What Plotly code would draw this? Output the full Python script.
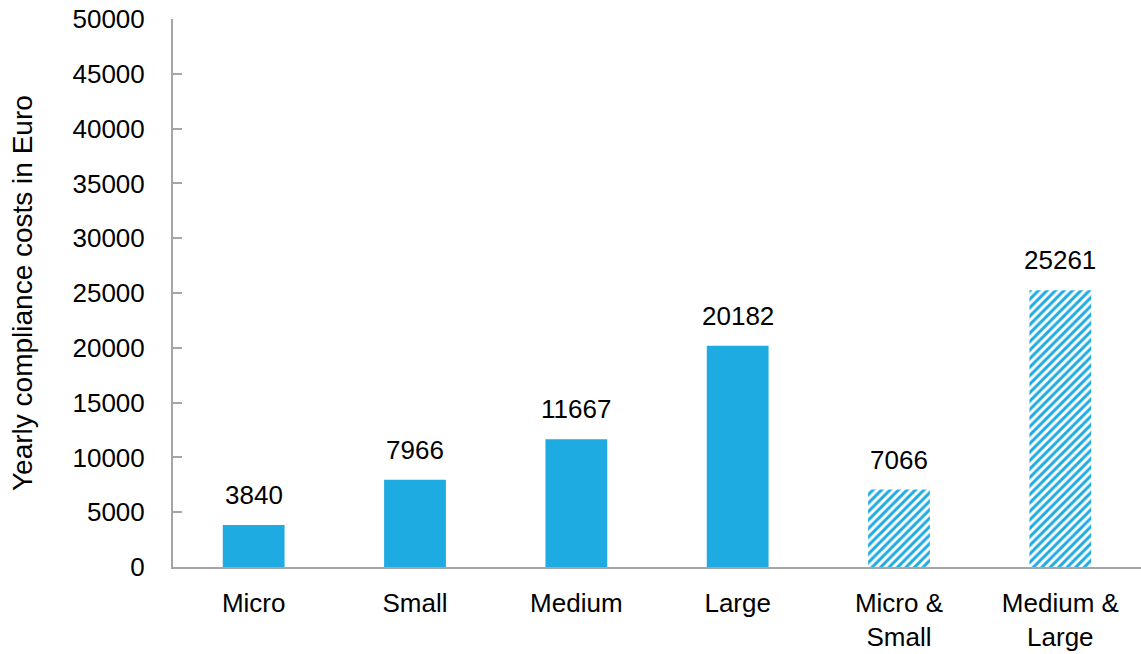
import plotly.graph_objects as go

categories = ["Micro", "Small", "Medium", "Large", "Micro &<br>Small", "Medium &<br>Large"]
values = [3840, 7966, 11667, 20182, 7066, 25261]
hatched = [False, False, False, False, True, True]
y_ticks = list(range(0, 50001, 5000))
y_title = "Yearly compliance costs in Euro"

BLUE = "#1eabe2"
AXIS = "#a6a6a6"
FONT = "Liberation Sans, Arial, sans-serif"

solid_x = [c for c, h in zip(categories, hatched) if not h]
solid_y = [v for v, h in zip(values, hatched) if not h]
hatch_x = [c for c, h in zip(categories, hatched) if h]
hatch_y = [v for v, h in zip(values, hatched) if h]

fig = go.Figure()
fig.add_trace(go.Bar(
    x=solid_x, y=solid_y, width=0.383,
    marker=dict(color=BLUE, line=dict(width=0)),
    hoverinfo="skip", showlegend=False,
))
fig.add_trace(go.Bar(
    x=hatch_x, y=hatch_y, width=0.383,
    marker=dict(
        color="white", line=dict(width=0),
        pattern=dict(shape="/", fgcolor=BLUE, bgcolor="white",
                     size=6, solidity=0.5, fillmode="replace"),
    ),
    hoverinfo="skip", showlegend=False,
))

for c, v in zip(categories, values):
    fig.add_annotation(
        x=c, y=v, text=str(v), showarrow=False,
        yanchor="bottom", yshift=13,
        font=dict(family=FONT, size=26, color="black"),
    )

fig.add_annotation(
    xref="paper", yref="paper", x=-(173 - 22) / 968, y=0.5,
    xanchor="center", yanchor="middle", textangle=-90,
    text=y_title, showarrow=False,
    font=dict(family=FONT, size=28, color="black"),
)

fig.update_layout(
    width=1141, height=654,
    margin=dict(l=173, r=0, t=19, b=87),
    paper_bgcolor="white", plot_bgcolor="white",
    font=dict(family=FONT, size=26, color="black"),
    barmode="overlay",
)
fig.update_xaxes(
    categoryorder="array", categoryarray=categories,
    showline=True, linecolor=AXIS, linewidth=2,
    showgrid=False, ticks="", ticklabelstandoff=12,
    tickfont=dict(family=FONT, size=26, color="black"),
)
fig.update_yaxes(
    range=[0, 50000], tickvals=y_ticks, ticktext=[str(t) for t in y_ticks],
    showline=True, linecolor=AXIS, linewidth=2,
    showgrid=False, zeroline=False,
    ticks="inside", ticklen=9, tickwidth=2, tickcolor=AXIS,
    ticklabelstandoff=21,
    tickfont=dict(family=FONT, size=26, color="black"),
    automargin=False,
)

fig.write_html("out.html", config={"displayModeBar": False},
               post_script="document.body.style.margin='0';document.body.style.padding='0';")
